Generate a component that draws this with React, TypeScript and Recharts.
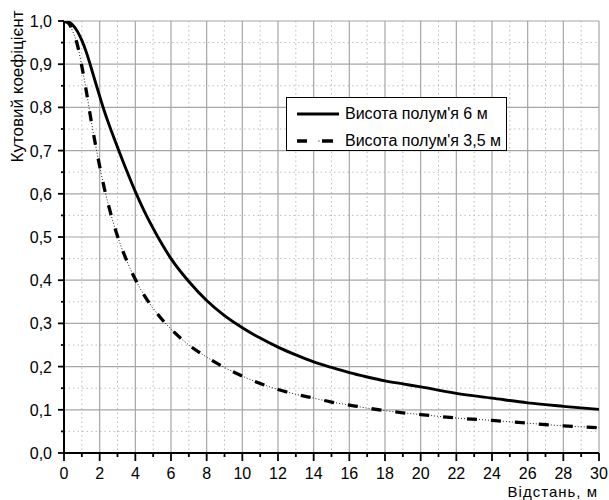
import React from 'react';
import { LineChart, Line, XAxis, YAxis, CartesianGrid, Legend, Label } from 'recharts';

// ---- data ----
const distance6 = [0, 0.25, 0.5, 0.75, 1, 1.25, 1.5, 1.75, 2, 2.25, 2.5, 2.75, 3, 3.5, 4, 4.5, 5, 5.5, 6, 7, 8, 9, 10, 11, 12, 13, 14, 15, 16, 17, 18, 19, 20, 22, 24, 26, 28, 30];
const factor6 = [1.0, 0.998, 0.99, 0.976, 0.955, 0.928, 0.895, 0.86, 0.826, 0.793, 0.763, 0.735, 0.708, 0.655, 0.605, 0.56, 0.52, 0.483, 0.45, 0.397, 0.353, 0.318, 0.29, 0.266, 0.245, 0.227, 0.211, 0.198, 0.186, 0.176, 0.167, 0.16, 0.153, 0.138, 0.127, 0.116, 0.108, 0.101];

const distance35 = [0, 0.25, 0.5, 0.75, 1, 1.25, 1.5, 1.75, 2, 2.25, 2.5, 2.75, 3, 3.5, 4, 4.5, 5, 5.5, 6, 7, 8, 9, 10, 11, 12, 13, 14, 15, 16, 17, 18, 19, 20, 22, 24, 26, 28, 30];
const factor35 = [1.0, 0.995, 0.975, 0.945, 0.895, 0.838, 0.775, 0.717, 0.664, 0.615, 0.573, 0.535, 0.502, 0.447, 0.402, 0.365, 0.335, 0.309, 0.287, 0.25, 0.222, 0.198, 0.178, 0.161, 0.147, 0.136, 0.127, 0.118, 0.111, 0.104, 0.098, 0.093, 0.089, 0.081, 0.0755, 0.069, 0.063, 0.0585];

const seriesNames = ["Висота полум'я 6 м", "Висота полум'я 3,5 м"];
const xTitle = 'Відстань, м';
const yTitle = 'Кутовий коефіцієнт';

const xMajorTicks = [0, 2, 4, 6, 8, 10, 12, 14, 16, 18, 20, 22, 24, 26, 28, 30];
const xMinorTicks = [1, 3, 5, 7, 9, 11, 13, 15, 17, 19, 21, 23, 25, 27, 29];
const yMajorTicks = [0, 0.1, 0.2, 0.3, 0.4, 0.5, 0.6, 0.7, 0.8, 0.9, 1.0];
const yMinorTicks = [0.05, 0.15, 0.25, 0.35, 0.45, 0.55, 0.65, 0.75, 0.85, 0.95];

const rows6 = distance6.map((x, i) => ({ x, y: factor6[i] }));
const rows35 = distance35.map((x, i) => ({ x, y: factor35[i] }));
const xAllTicks = [...xMajorTicks, ...xMinorTicks].sort((a, b) => a - b);
const yAllTicks = [...yMajorTicks, ...yMinorTicks].sort((a, b) => a - b);

const FONT = '"Liberation Sans", Arial, sans-serif';

const isMajorX = (v: number) => xMajorTicks.indexOf(v) >= 0;
const isMajorY = (v: number) => yMajorTicks.some((t) => Math.abs(t - v) < 1e-6);

const XTick = (props: any) => {
  const { x, y, payload } = props;
  const major = isMajorX(payload.value);
  return (
    <g>
      <line x1={x} y1={y} x2={x} y2={y + (major ? 8 : 4)} stroke="#000" strokeWidth={1.8} />
      {major && (
        <text x={x} y={y + 26} textAnchor="middle" fontSize={16} fontFamily={FONT} fill="#000">
          {String(payload.value)}
        </text>
      )}
    </g>
  );
};

const YTick = (props: any) => {
  const { x, y, payload } = props;
  const major = isMajorY(payload.value);
  return (
    <g>
      <line x1={x} y1={y} x2={x - (major ? 6 : 3)} y2={y} stroke="#000" strokeWidth={1.8} />
      {major && (
        <text x={x - 12} y={y + 6} textAnchor="end" fontSize={16} fontFamily={FONT} fill="#000">
          {Number(payload.value).toFixed(1).replace('.', ',')}
        </text>
      )}
    </g>
  );
};

const LegendBox = () => (
  <div
    style={{
      width: 219,
      height: 52,
      border: '1.3px solid #000',
      background: '#fff',
      position: 'relative',
      fontFamily: FONT,
      fontSize: 16,
      color: '#000',
    }}
  >
    <svg width={60} height={52} style={{ position: 'absolute', left: 0, top: 0 }}>
      <line x1={10} y1={16} x2={52} y2={16} stroke="#000" strokeWidth={3} />
      <line x1={10} y1={43} x2={20} y2={43} stroke="#000" strokeWidth={3.5} />
      <line x1={31.5} y1={43} x2={32.5} y2={43} stroke="#000" strokeWidth={1.2} />
      <line x1={35} y1={43} x2={46} y2={43} stroke="#000" strokeWidth={3.5} />
    </svg>
    <div style={{ position: 'absolute', left: 58, top: 6, whiteSpace: 'nowrap', lineHeight: '20px' }}>{seriesNames[0]}</div>
    <div style={{ position: 'absolute', left: 58, top: 33, whiteSpace: 'nowrap', lineHeight: '20px' }}>{seriesNames[1]}</div>
  </div>
);

export default function App() {
  return (
    <div style={{ position: 'absolute', left: 0, top: 0, width: 609, height: 500, background: '#fff', overflow: 'hidden' }}>
      <LineChart width={609} height={500} margin={{ top: 21, right: 10, bottom: 0, left: 0 }}>
        <CartesianGrid
          stroke="#bdbdbd"
          strokeWidth={1}
          strokeDasharray="1.5 3"
          horizontalValues={yMinorTicks}
          verticalValues={xMinorTicks}
        />
        <CartesianGrid
          stroke="#a6a6a6"
          strokeWidth={1.2}
          horizontalValues={yMajorTicks}
          verticalValues={xMajorTicks}
        />
        <XAxis
          dataKey="x"
          type="number"
          domain={[0, 30]}
          ticks={xAllTicks}
          interval={0}
          height={47}
          tickSize={0}
          tickMargin={0}
          tick={<XTick />}
          axisLine={{ stroke: '#000', strokeWidth: 2 }}
          tickLine={false}
          allowDataOverflow
        >
          <Label
            content={(p: any) => {
              const vb = p.viewBox;
              return (
                <text x={vb.x + vb.width - 1} y={vb.y + 43.5} textAnchor="end" fontSize={15} letterSpacing={1} fontFamily={FONT} fill="#000">
                  {xTitle}
                </text>
              );
            }}
          />
        </XAxis>
        <YAxis
          type="number"
          domain={[0, 1]}
          ticks={yAllTicks}
          interval={0}
          width={64}
          tickSize={0}
          tickMargin={0}
          tick={<YTick />}
          axisLine={{ stroke: '#000', strokeWidth: 2 }}
          tickLine={false}
          allowDataOverflow
        >
          <Label
            content={(p: any) => {
              const vb = p.viewBox;
              const cx = vb.x + 22.7;
              const cy = vb.y + 65.5;
              return (
                <text x={cx} y={cy} transform={`rotate(-90, ${cx}, ${cy})`} textAnchor="middle" fontSize={17} fontFamily={FONT} fill="#000">
                  {yTitle}
                </text>
              );
            }}
          />
        </YAxis>
        <Legend
          layout="vertical"
          align="center"
          verticalAlign="middle"
          content={<LegendBox />}
          wrapperStyle={{ left: 286, top: 97, width: 221, height: 54 }}
        />
        <Line
          data={rows6}
          dataKey="y"
          type="monotone"
          stroke="#000"
          strokeWidth={2.9}
          dot={false}
          activeDot={false}
          isAnimationActive={false}
          name={seriesNames[0]}
        />
        <Line
          data={rows35}
          dataKey="y"
          type="monotone"
          stroke="#000"
          strokeWidth={0.9}
          strokeDasharray="1 2"
          dot={false}
          activeDot={false}
          isAnimationActive={false}
          legendType="none"
        />
        <Line
          data={rows35}
          dataKey="y"
          type="monotone"
          stroke="#000"
          strokeWidth={3.3}
          strokeDasharray="10 14"
          dot={false}
          activeDot={false}
          isAnimationActive={false}
          name={seriesNames[1]}
        />
      </LineChart>
    </div>
  );
}
